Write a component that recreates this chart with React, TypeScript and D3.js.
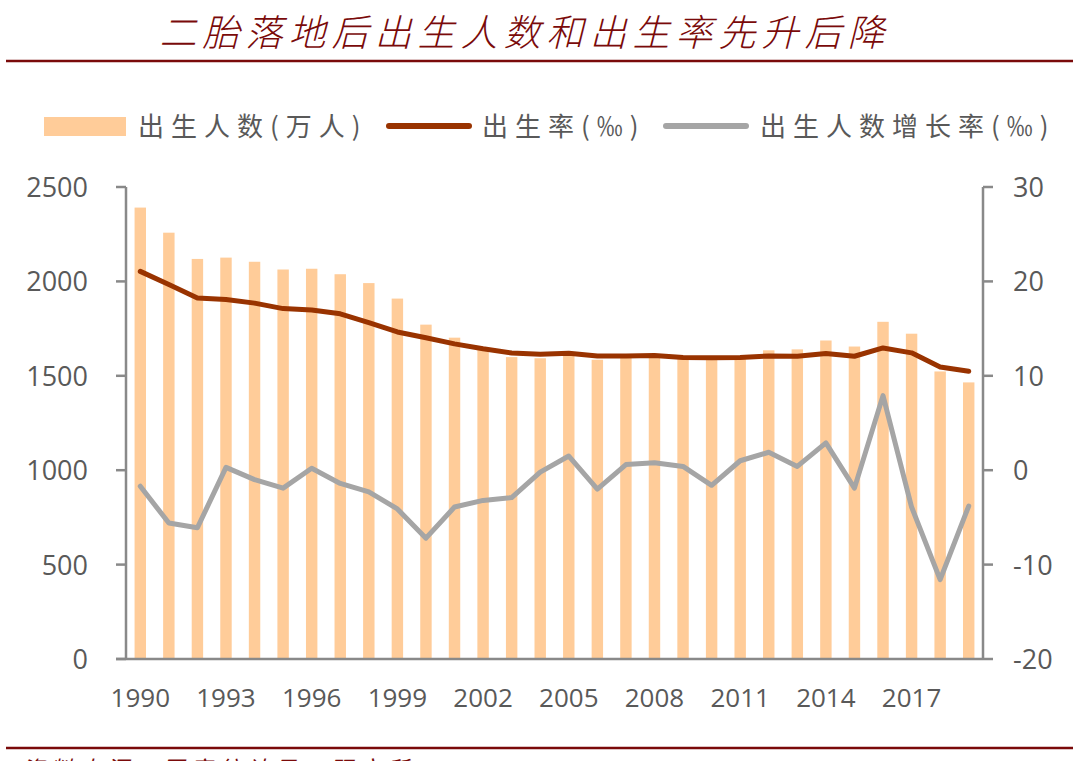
import { useMemo } from 'react';
import * as d3 from 'd3';

const years = [
    1990, 1991, 1992, 1993, 1994, 1995, 1996, 1997, 1998, 1999,
    2000, 2001, 2002, 2003, 2004, 2005, 2006, 2007, 2008, 2009,
    2010, 2011, 2012, 2013, 2014, 2015, 2016, 2017, 2018, 2019,
];
// 出生人数(万人)
const births = [
    2391, 2258, 2119, 2126, 2104, 2063, 2067, 2038, 1991, 1909,
    1771, 1702, 1647, 1599, 1593, 1617, 1585, 1595, 1608, 1591,
    1592, 1604, 1635, 1640, 1687, 1655, 1786, 1723, 1523, 1465,
];
// 出生率(‰)
const birthRate = [
    21.06, 19.68, 18.24, 18.09, 17.7, 17.12, 16.98, 16.57, 15.64, 14.64,
    14.03, 13.38, 12.86, 12.41, 12.29, 12.4, 12.09, 12.1, 12.14, 11.95,
    11.9, 11.93, 12.1, 12.08, 12.37, 12.07, 12.95, 12.43, 10.94, 10.48,
];
// 出生人数增长率(‰)
const growthRate = [
    -1.7, -5.6, -6.1, 0.3, -1.0, -1.9, 0.2, -1.4, -2.3, -4.1,
    -7.2, -3.9, -3.2, -2.9, -0.2, 1.5, -2.0, 0.6, 0.8, 0.4,
    -1.6, 1.0, 1.9, 0.4, 2.9, -1.9, 7.9, -3.9, -11.6, -3.8,
];
const xTickYears = [1990, 1993, 1996, 1999, 2002, 2005, 2008, 2011, 2014, 2017];
const leftTicks = [0, 500, 1000, 1500, 2000, 2500];
const rightTicks = [-20, -10, 0, 10, 20, 30];

const W = 1080;
const H = 761;
const plotLeft = 126;
const plotRight = 983;
const plotTop = 187;
const plotBottom = 659;

const TEXT = '#595959';
const AXIS = '#898989';
const BAR = '#FFCC99';
const RED = '#993300';
const GRAY = '#A5A5A5';
const TITLE = '#7A0A0A';
const NUM_FONT = '"Open Sans", "Noto Sans", sans-serif';
const CJK_FONT = '"Noto Sans CJK SC", sans-serif';

export default function App() {
    const { x, yL, yR, ratePath, growthPath } = useMemo(() => {
        const x = d3.scaleBand<number>()
            .domain(years)
            .range([plotLeft, plotRight])
            .paddingInner(0.6)
            .paddingOuter(0.3);
        const yL = d3.scaleLinear().domain([0, 2500]).range([plotBottom, plotTop]);
        const yR = d3.scaleLinear().domain([-20, 30]).range([plotBottom, plotTop]);
        const cx = (i: number) => (x(years[i]) as number) + x.bandwidth() / 2;
        const rateLine = d3.line<number>()
            .x((_, i) => cx(i))
            .y((d) => yR(d));
        return {
            x,
            yL,
            yR,
            ratePath: rateLine(birthRate) || '',
            growthPath: rateLine(growthRate) || '',
        };
    }, []);

    const bw = x.bandwidth();

    return (
        <svg width={W} height={H} style={{ position: 'absolute', left: 0, top: 0, background: '#fff' }}>
            {/* title */}
            <text x={525} y={46} textAnchor="middle" fill={TITLE} fontFamily={CJK_FONT}
                fontSize={37} fontStyle="italic" fontWeight={300} letterSpacing={6}>
                二胎落地后出生人数和出生率先升后降
            </text>
            <line x1={6} x2={1073} y1={61} y2={61} stroke={TITLE} strokeWidth={2.5} />

            {/* legend */}
            <g fontFamily={CJK_FONT} fontSize={26} fill={TEXT} letterSpacing={7}>
                <rect x={44} y={117} width={82} height={19} fill={BAR} />
                <text x={138} y={136}>出生人数(万人)</text>
                <line x1={389} x2={469} y1={126} y2={126} stroke={RED} strokeWidth={6} strokeLinecap="round" />
                <text x={482} y={136}>出生率(‰)</text>
                <line x1={666} x2={746} y1={126} y2={126} stroke={GRAY} strokeWidth={6} strokeLinecap="round" />
                <text x={760} y={136}>出生人数增长率(‰)</text>
            </g>

            {/* bars */}
            {years.map((yr, i) => (
                <rect key={yr} x={x(yr)} y={yL(births[i])} width={bw}
                    height={plotBottom - yL(births[i])} fill={BAR} />
            ))}

            {/* lines */}
            <path d={ratePath} fill="none" stroke={RED} strokeWidth={5} strokeLinejoin="round" strokeLinecap="round" />
            <path d={growthPath} fill="none" stroke={GRAY} strokeWidth={5} strokeLinejoin="round" strokeLinecap="round" />

            {/* axes */}
            <g stroke={AXIS} strokeWidth={2.5}>
                <line x1={plotLeft} x2={plotLeft} y1={plotTop} y2={plotBottom} />
                {leftTicks.map((t) => (
                    <line key={t} x1={plotLeft - 10} x2={plotLeft} y1={yL(t)} y2={yL(t)} />
                ))}
                <line x1={plotRight} x2={plotRight} y1={plotTop} y2={plotBottom} />
                {rightTicks.map((t) => (
                    <line key={t} x1={plotRight} x2={plotRight + 10} y1={yR(t)} y2={yR(t)} />
                ))}
                <line x1={plotLeft - 10} x2={plotRight} y1={plotBottom} y2={plotBottom} />
            </g>
            <g fontFamily={NUM_FONT} fontSize={27} fill={TEXT}>
                {leftTicks.map((t) => (
                    <text key={t} x={88} y={yL(t) + 10} textAnchor="end">{t}</text>
                ))}
                {rightTicks.map((t) => (
                    <text key={t} x={1013} y={yR(t) + 10}>{t}</text>
                ))}
                {xTickYears.map((yr) => (
                    <text key={yr} x={(x(yr) as number) + bw / 2} y={707} textAnchor="middle" fontSize={26}>{yr}</text>
                ))}
            </g>

            {/* footer */}
            <line x1={6} x2={1073} y1={748} y2={748} stroke={TITLE} strokeWidth={2.5} />
            <text x={22} y={777} fill={TITLE} fontFamily={CJK_FONT} fontSize={22} fontStyle="italic" letterSpacing={6}>
                资料来源：国家统计局，研究所
            </text>
        </svg>
    );
}
